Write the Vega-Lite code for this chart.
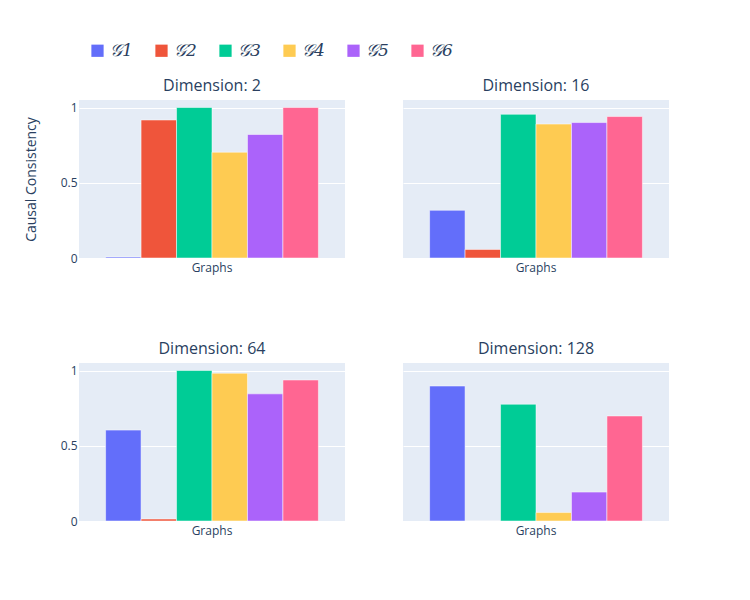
{
  "$schema": "https://vega.github.io/schema/vega-lite/v6.json",
  "background": "white",
  "padding": {"left": 24, "top": 32, "right": 20, "bottom": 20},
  "data": {
    "values": [
      {"dim": 2, "cat": "Graphs", "graph": "𝒢1", "value": 0.007},
      {"dim": 2, "cat": "Graphs", "graph": "𝒢2", "value": 0.917},
      {"dim": 2, "cat": "Graphs", "graph": "𝒢3", "value": 1.0},
      {"dim": 2, "cat": "Graphs", "graph": "𝒢4", "value": 0.703},
      {"dim": 2, "cat": "Graphs", "graph": "𝒢5", "value": 0.821},
      {"dim": 2, "cat": "Graphs", "graph": "𝒢6", "value": 1.0},
      {"dim": 16, "cat": "Graphs", "graph": "𝒢1", "value": 0.317},
      {"dim": 16, "cat": "Graphs", "graph": "𝒢2", "value": 0.057},
      {"dim": 16, "cat": "Graphs", "graph": "𝒢3", "value": 0.955},
      {"dim": 16, "cat": "Graphs", "graph": "𝒢4", "value": 0.89},
      {"dim": 16, "cat": "Graphs", "graph": "𝒢5", "value": 0.9},
      {"dim": 16, "cat": "Graphs", "graph": "𝒢6", "value": 0.94},
      {"dim": 64, "cat": "Graphs", "graph": "𝒢1", "value": 0.604},
      {"dim": 64, "cat": "Graphs", "graph": "𝒢2", "value": 0.013},
      {"dim": 64, "cat": "Graphs", "graph": "𝒢3", "value": 1.0},
      {"dim": 64, "cat": "Graphs", "graph": "𝒢4", "value": 0.982},
      {"dim": 64, "cat": "Graphs", "graph": "𝒢5", "value": 0.845},
      {"dim": 64, "cat": "Graphs", "graph": "𝒢6", "value": 0.937},
      {"dim": 128, "cat": "Graphs", "graph": "𝒢1", "value": 0.897},
      {"dim": 128, "cat": "Graphs", "graph": "𝒢2", "value": 0.0},
      {"dim": 128, "cat": "Graphs", "graph": "𝒢3", "value": 0.776},
      {"dim": 128, "cat": "Graphs", "graph": "𝒢4", "value": 0.056},
      {"dim": 128, "cat": "Graphs", "graph": "𝒢5", "value": 0.192},
      {"dim": 128, "cat": "Graphs", "graph": "𝒢6", "value": 0.698}
    ]
  },
  "config": {
    "font": "Open Sans",
    "view": {"fill": "#E5ECF6", "stroke": null},
    "title": {"fontSize": 16, "fontWeight": "normal", "color": "#2a3f5f", "offset": 6},
    "axis": {
      "labelColor": "#2a3f5f",
      "labelFontSize": 12,
      "titleColor": "#2a3f5f",
      "titleFontSize": 14,
      "titleFontWeight": "normal",
      "domain": false,
      "ticks": false,
      "gridColor": "white",
      "gridWidth": 1
    },
    "legend": {
      "orient": "top",
      "direction": "horizontal",
      "title": null,
      "padding": 10,
      "symbolType": "square",
      "symbolSize": 150,
      "symbolStrokeWidth": 0,
      "labelFont": "DejaVu Serif",
      "labelFontStyle": "italic",
      "labelFontSize": 17,
      "labelColor": "#2a3f5f",
      "columnPadding": 20,
      "offset": 9
    },
    "concat": {"spacing": 58}
  },
  "vconcat": [
    {
      "hconcat": [
        {
          "title": "Dimension: 2",
          "width": 266,
          "height": 158,
          "transform": [{"filter": "datum.dim == 2"}],
          "mark": {"type": "bar", "stroke": "white", "strokeWidth": 0.5},
          "encoding": {
            "x": {"field": "cat", "type": "nominal", "scale": {"paddingInner": 0.2, "paddingOuter": 0.1}, "axis": {"title": null, "labelAngle": 0, "labelPadding": 4}},
            "xOffset": {"field": "graph", "type": "nominal", "scale": {"paddingInner": 0, "paddingOuter": 0}},
            "y": {"field": "value", "type": "quantitative", "scale": {"domain": [0, 1.05], "nice": false}, "axis": {"title": "Causal Consistency", "values": [0, 0.5, 1], "format": "~g", "labelPadding": 2, "titlePadding": 22}},
            "color": {"field": "graph", "type": "nominal", "scale": {"domain": ["𝒢1", "𝒢2", "𝒢3", "𝒢4", "𝒢5", "𝒢6"], "range": ["#636EFA", "#EF553B", "#00CC96", "#FECB52", "#AB63FA", "#FF6692"]}}
          }
        },
        {
          "title": "Dimension: 16",
          "width": 266,
          "height": 158,
          "transform": [{"filter": "datum.dim == 16"}],
          "mark": {"type": "bar", "stroke": "white", "strokeWidth": 0.5},
          "encoding": {
            "x": {"field": "cat", "type": "nominal", "scale": {"paddingInner": 0.2, "paddingOuter": 0.1}, "axis": {"title": null, "labelAngle": 0, "labelPadding": 4}},
            "xOffset": {"field": "graph", "type": "nominal", "scale": {"paddingInner": 0, "paddingOuter": 0}},
            "y": {"field": "value", "type": "quantitative", "scale": {"domain": [0, 1.05], "nice": false}, "axis": {"title": null, "values": [0, 0.5, 1], "labels": false}},
            "color": {"field": "graph", "type": "nominal"}
          }
        }
      ]
    },
    {
      "hconcat": [
        {
          "title": "Dimension: 64",
          "width": 266,
          "height": 158,
          "transform": [{"filter": "datum.dim == 64"}],
          "mark": {"type": "bar", "stroke": "white", "strokeWidth": 0.5},
          "encoding": {
            "x": {"field": "cat", "type": "nominal", "scale": {"paddingInner": 0.2, "paddingOuter": 0.1}, "axis": {"title": null, "labelAngle": 0, "labelPadding": 4}},
            "xOffset": {"field": "graph", "type": "nominal", "scale": {"paddingInner": 0, "paddingOuter": 0}},
            "y": {"field": "value", "type": "quantitative", "scale": {"domain": [0, 1.05], "nice": false}, "axis": {"title": null, "values": [0, 0.5, 1], "format": "~g", "labelPadding": 2}},
            "color": {"field": "graph", "type": "nominal"}
          }
        },
        {
          "title": "Dimension: 128",
          "width": 266,
          "height": 158,
          "transform": [{"filter": "datum.dim == 128"}],
          "mark": {"type": "bar", "stroke": "white", "strokeWidth": 0.5},
          "encoding": {
            "x": {"field": "cat", "type": "nominal", "scale": {"paddingInner": 0.2, "paddingOuter": 0.1}, "axis": {"title": null, "labelAngle": 0, "labelPadding": 4}},
            "xOffset": {"field": "graph", "type": "nominal", "scale": {"paddingInner": 0, "paddingOuter": 0}},
            "y": {"field": "value", "type": "quantitative", "scale": {"domain": [0, 1.05], "nice": false}, "axis": {"title": null, "values": [0, 0.5, 1], "labels": false}},
            "color": {"field": "graph", "type": "nominal"}
          }
        }
      ]
    }
  ],
  "spacing": 68,
  "resolve": {"scale": {"color": "shared"}}
}
